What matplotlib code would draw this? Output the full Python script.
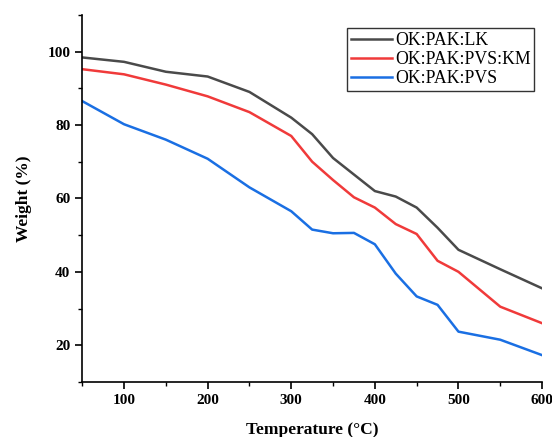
import numpy as np
import matplotlib.pyplot as plt

plt.rcParams['font.family'] = ['Liberation Serif', 'DejaVu Serif']

# temperatures (°C)
temp = [50, 100, 150, 200, 250, 300, 325, 350, 375, 400, 425, 450, 475, 500, 550, 600]

# weight (%) for each sample
lk = [98.4, 97.2, 94.5, 93.2, 89.0, 82.0, 77.5, 71.0, 66.5, 62.0, 60.5, 57.5, 52.0, 46.0, 40.7, 35.5]
pvs_km = [95.2, 93.8, 91.0, 87.8, 83.5, 77.0, 70.0, 65.0, 60.3, 57.5, 53.0, 50.3, 43.0, 40.0, 30.5, 26.0]
pvs = [86.5, 80.2, 76.0, 70.8, 63.0, 56.5, 51.5, 50.5, 50.6, 47.5, 39.5, 33.3, 31.0, 23.7, 21.5, 17.3]

fig = plt.figure(figsize=(5.52, 4.37), dpi=100)
ax = fig.add_axes([0.149, 0.126, 0.833, 0.840])

ax.plot(temp, lk, color='#4a4a4a', lw=1.8, label='OK:PAK:LK')
ax.plot(temp, pvs_km, color='#f03a3a', lw=1.8, label='OK:PAK:PVS:KM')
ax.plot(temp, pvs, color='#1a6fe3', lw=1.8, label='OK:PAK:PVS')

ax.set_xlim(50, 600)
ax.set_ylim(10, 110)
ax.set_xticks([100, 200, 300, 400, 500, 600])
ax.set_xticks(np.arange(50, 601, 50), minor=True)
ax.set_yticks([20, 40, 60, 80, 100])
ax.set_yticks(np.arange(10, 111, 10), minor=True)

for s in ['top', 'right']:
    ax.spines[s].set_visible(False)
for s in ['left', 'bottom']:
    ax.spines[s].set_linewidth(1.2)

ax.tick_params(axis='both', which='major', length=5, width=1.2, labelsize=11)
ax.tick_params(axis='both', which='minor', length=3, width=1.0)
for lab in ax.get_xticklabels() + ax.get_yticklabels():
    lab.set_fontweight('bold')

ax.set_xlabel('Temperature (°C)', fontsize=12.5, fontweight='bold', labelpad=11)
ax.set_ylabel('Weight (%)', fontsize=12.5, fontweight='bold', labelpad=11)

leg = ax.legend(loc='upper right', bbox_to_anchor=(0.983, 0.963), fontsize=12.8,
                frameon=True, fancybox=False, edgecolor='black', handlelength=2.3,
                handletextpad=0.2, borderpad=0.2, labelspacing=0.12, borderaxespad=0.0)
leg.get_frame().set_linewidth(1.0)

fig.savefig('out.png', dpi=100)
